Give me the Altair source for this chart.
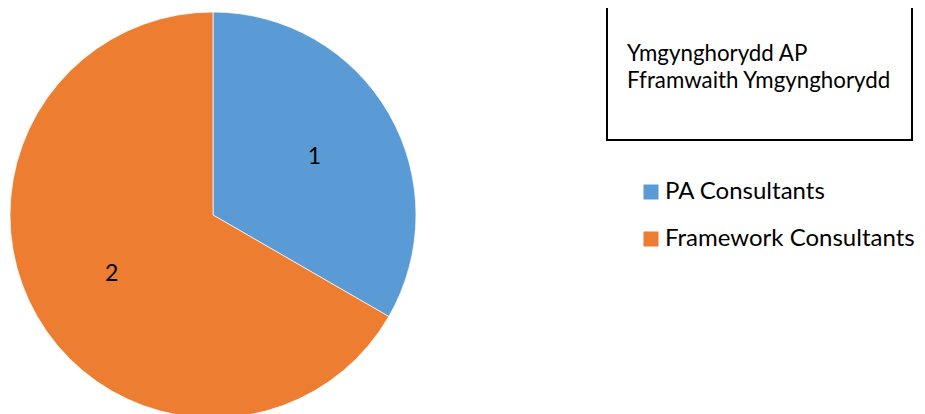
import altair as alt
import pandas as pd

categories = ["PA Consultants", "Framework Consultants"]
values = [1, 2]
colors = ["#5B9BD5", "#ED7D31"]
box_lines = ["Ymgynghorydd AP", "Fframwaith Ymgynghorydd"]

FONT = "Lato"

df = pd.DataFrame({"category": categories, "value": values, "order": [0, 1]})

color = alt.Color(
    "category:N",
    scale=alt.Scale(domain=categories, range=colors),
    legend=alt.Legend(
        title=None,
        orient="none",
        legendX=631,
        legendY=172,
        symbolType="square",
        symbolSize=225,
        symbolStrokeWidth=0,
        symbolOpacity=1,
        labelFontSize=24,
        labelFont=FONT,
        labelColor="#000000",
        labelOffset=2,
        labelLimit=500,
        rowPadding=23,
        padding=0,
    ),
)

base = alt.Chart(df).encode(
    theta=alt.Theta("value:Q", stack=True),
    order=alt.Order("order:Q"),
    x=alt.value(205),
    y=alt.value(207),
)

pie = base.mark_arc(radius=203, stroke="white", strokeWidth=0.7).encode(color=color)

labels = base.mark_text(radius=117, fontSize=23, font=FONT, color="black").encode(
    text="value:Q"
)

one = pd.DataFrame({"a": [0]})

box = alt.Chart(one).mark_rect(filled=False, stroke="black", strokeWidth=2).encode(
    x=alt.value(599), x2=alt.value(904), y=alt.value(-30), y2=alt.value(132)
)

box_text = alt.Chart(one).mark_text(
    align="left", baseline="alphabetic", fontSize=22.3, font=FONT, color="black",
    lineHeight=27,
).encode(x=alt.value(619), y=alt.value(53), text=alt.value(box_lines))

chart = (
    alt.layer(pie, labels, box, box_text)
    .properties(
        width=909,
        height=406,
        padding=0,
        background="white",
        autosize=alt.AutoSizeParams(type="none"),
    )
    .configure_view(strokeWidth=0, stroke=None)
)

chart.save("out.html", embed_options={"renderer": "svg", "actions": False})
